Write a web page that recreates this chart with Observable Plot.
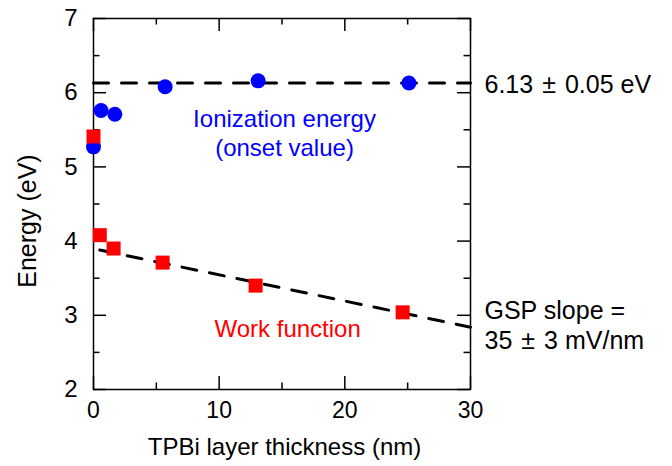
<!DOCTYPE html>
<html>
<head>
<meta charset="utf-8">
<script src="https://cdn.jsdelivr.net/npm/d3@7"></script>
<script src="https://cdn.jsdelivr.net/npm/@observablehq/plot@0.6"></script>
<style>
  html, body { margin: 0; padding: 0; background: #fff; }
</style>
</head>
<body>
<div id="chart"></div>
<script>
// Ionization energy (onset value), blue circles
const ieThickness = [0, 0.6, 1.7, 5.7, 13.1, 25.1];
const ieEnergy = [5.27, 5.76, 5.71, 6.08, 6.16, 6.13];
// Work function, red squares
const wfThickness = [0, 0.5, 1.6, 5.5, 12.9, 24.6];
const wfEnergy = [5.41, 4.08, 3.90, 3.71, 3.40, 3.04];
// Fit lines
const ieFitX = [0, 30];
const ieFitY = [6.13, 6.13];
const wfFitX = [0.5, 30];
const wfFitY = [3.88, 2.84];
// Ticks
const xMajor = [0, 10, 20, 30];
const xMinor = [5, 15, 25];
const yMajor = [2, 3, 4, 5, 6, 7];
const yMinor = [2.5, 3.5, 4.5, 5.5, 6.5];
// Annotations
const annotations = [
  {x: 15.2, y: 5.47, text: "Ionization energy\n(onset value)", color: "#0000ff", anchor: "middle", dx: 0, lh: 1.2, size: 24},
  {x: 15.45, y: 2.83, text: "Work function", color: "#ff0000", anchor: "middle", dx: 0, lh: 1.2, size: 24},
  {x: 30, y: 6.13, text: "6.13 \u200a\u00b1\u200a 0.05 eV", color: "#000", anchor: "start", dx: 14, lh: 1.2, size: 25},
  {x: 30, y: 2.88, text: "GSP slope =\n35 \u200a\u00b1\u200a 3 mV/nm", color: "#000", anchor: "start", dx: 14, lh: 1.22, size: 25}
];
const yLabel = {x: 0, y: 4.27, text: "Energy (eV)"};
const xLabel = {x: 15.2, y: 2, text: "TPBi layer thickness (nm)"};

const W = 672, H = 466, ML = 93, MR = 202, MT = 18, MB = 77;
const PW = W - ML - MR, PH = H - MT - MB;
const font = "'Liberation Sans', Arial, Helvetica, sans-serif";
const ie = ieThickness.map((x, i) => ({x, y: ieEnergy[i]}));
const wf = wfThickness.map((x, i) => ({x, y: wfEnergy[i]}));
const ieFit = ieFitX.map((x, i) => ({x, y: ieFitY[i]}));
const wfFit = wfFitX.map((x, i) => ({x, y: wfFitY[i]}));
const tickStyle = {stroke: "black", strokeWidth: 1.5};

const chart = Plot.plot({
  width: W, height: H,
  marginLeft: ML, marginRight: MR, marginTop: MT, marginBottom: MB,
  style: {fontFamily: font, fontSize: "24px", background: "white", color: "black", overflow: "visible"},
  x: {domain: [0, 30]},
  y: {domain: [2, 7]},
  marks: [
    Plot.axisX({ticks: xMajor, tickSize: 0, tickPadding: 12, label: null, fontSize: 23, tickFormat: d3.format("d")}),
    Plot.axisY({ticks: yMajor, tickSize: 0, tickPadding: 16, label: null, fontSize: 24, tickFormat: d3.format("d")}),
    // inward ticks on all four sides
    Plot.ruleY(yMajor, {y: d => d, insetRight: PW - 13, ...tickStyle}),
    Plot.ruleY(yMinor, {y: d => d, insetRight: PW - 6.5, ...tickStyle}),
    Plot.ruleY(yMajor, {y: d => d, insetLeft: PW - 13, ...tickStyle}),
    Plot.ruleY(yMinor, {y: d => d, insetLeft: PW - 6.5, ...tickStyle}),
    Plot.ruleX(xMajor, {x: d => d, insetTop: PH - 13, ...tickStyle}),
    Plot.ruleX(xMinor, {x: d => d, insetTop: PH - 6.5, ...tickStyle}),
    Plot.ruleX(xMajor, {x: d => d, insetBottom: PH - 13, ...tickStyle}),
    Plot.ruleX(xMinor, {x: d => d, insetBottom: PH - 6.5, ...tickStyle}),
    Plot.frame({stroke: "black", strokeWidth: 1.5}),
    // fit lines
    Plot.line(ieFit, {x: "x", y: "y", stroke: "black", strokeWidth: 3, strokeDasharray: "15,13"}),
    Plot.line(wfFit, {x: "x", y: "y", stroke: "black", strokeWidth: 3, strokeDasharray: "15,13"}),
    // data
    Plot.dot(ie, {x: "x", y: "y", r: 7.5, fill: "#0000ff", stroke: null, symbol: "circle"}),
    Plot.dot(wf, {x: "x", y: "y", r: 7.9, fill: "#ff0000", stroke: null, symbol: "square"}),
    // annotations
    ...annotations.map(a => Plot.text([a], {
      x: "x", y: "y", text: "text", fill: a.color, textAnchor: a.anchor, dx: a.dx,
      lineHeight: a.lh, fontSize: a.size
    })),
    // axis labels
    Plot.text([yLabel], {x: "x", y: "y", text: "text", rotate: -90, dx: -66, fontSize: 25, fill: "black"}),
    Plot.text([xLabel], {x: "x", y: "y", text: "text", dy: 58, fontSize: 24, fill: "black"})
  ]
});
document.getElementById("chart").appendChild(chart);
</script>
</body>
</html>
